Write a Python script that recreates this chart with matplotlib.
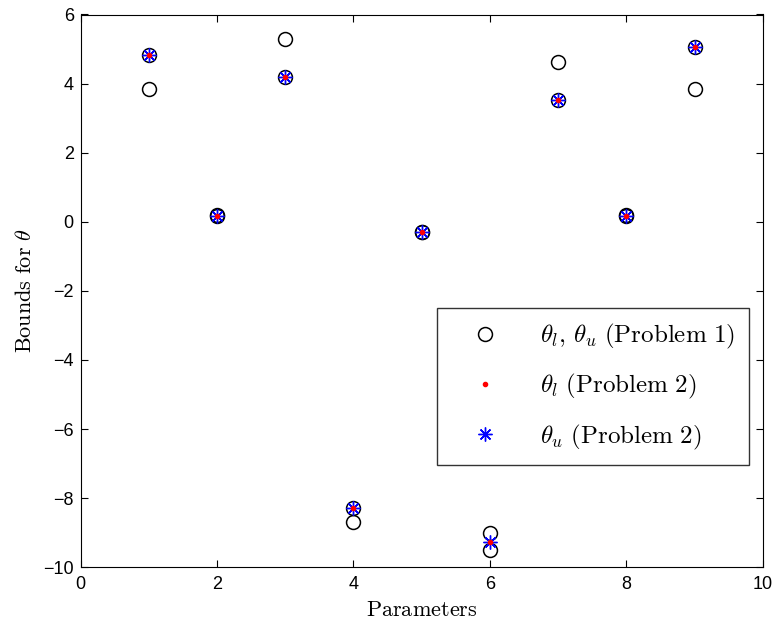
import matplotlib.pyplot as plt

plt.rcParams['mathtext.fontset'] = 'cm'
plt.rcParams['font.family'] = 'Liberation Sans'

params = [1, 2, 3, 4, 5, 6, 7, 8, 9]

# Problem 1: lower and upper bounds
p1_lower = [3.84, 0.16, 4.19, -8.68, -0.30, -9.49, 3.52, 0.16, 3.84]
p1_upper = [4.83, 0.20, 5.29, -8.27, -0.30, -9.02, 4.62, 0.20, 5.06]

# Problem 2: lower and upper bounds
p2_lower = [4.83, 0.18, 4.19, -8.27, -0.30, -9.26, 3.52, 0.18, 5.06]
p2_upper = [4.83, 0.18, 4.19, -8.27, -0.30, -9.26, 3.52, 0.18, 5.06]

fig = plt.figure(figsize=(7.75, 6.32), dpi=100)
ax = fig.add_axes([80.7 / 775, 1 - 567.3 / 632, 682 / 775, 552.8 / 632])

ax.plot(params, p1_lower, 'o', mfc='none', mec='black', ms=10, mew=1.1,
        label=r'$\theta_l,\,\theta_u\ \mathrm{(Problem\ 1)}$')
ax.plot(params, p1_upper, 'o', mfc='none', mec='black', ms=10, mew=1.1)
ax.plot(params, p2_upper, ls='none', marker=(8, 2, 0), color='blue', ms=10, mew=1.0,
        label=r'$\theta_u\ \mathrm{(Problem\ 2)}$')
ax.plot(params, p2_lower, '.', color='red', ms=6,
        label=r'$\theta_l\ \mathrm{(Problem\ 2)}$')

ax.set_xlim(0, 10)
ax.set_ylim(-10, 6)
ax.set_xticks(range(0, 11, 2))
ax.set_yticks(range(-10, 7, 2))
ax.tick_params(direction='in', top=True, right=True, labelsize=13, length=5, width=0.8)
ax.tick_params(axis='x', pad=6)
ax.tick_params(axis='y', pad=5)
ax.set_yticklabels([str(v).replace('-', '\u2212') for v in range(-10, 7, 2)])
for s in ax.spines.values():
    s.set_linewidth(0.8)

ax.set_xlabel(r'$\mathrm{Parameters}$', fontsize=16, labelpad=5)
ax.set_ylabel(r'$\mathrm{Bounds\ for}\ \theta$', fontsize=16, labelpad=5)

h, l = ax.get_legend_handles_labels()
order = [0, 2, 1]
leg = ax.legend([h[i] for i in order], [l[i] for i in order],
                loc='upper left', bbox_to_anchor=(0.522, 0.469), borderaxespad=0,
                fontsize=18, frameon=True, fancybox=False, edgecolor='black',
                borderpad=0.55, labelspacing=0.85, handletextpad=0.8, handlelength=2.8)
leg.get_frame().set_linewidth(1.0)

fig.savefig('out.png', dpi=100)
